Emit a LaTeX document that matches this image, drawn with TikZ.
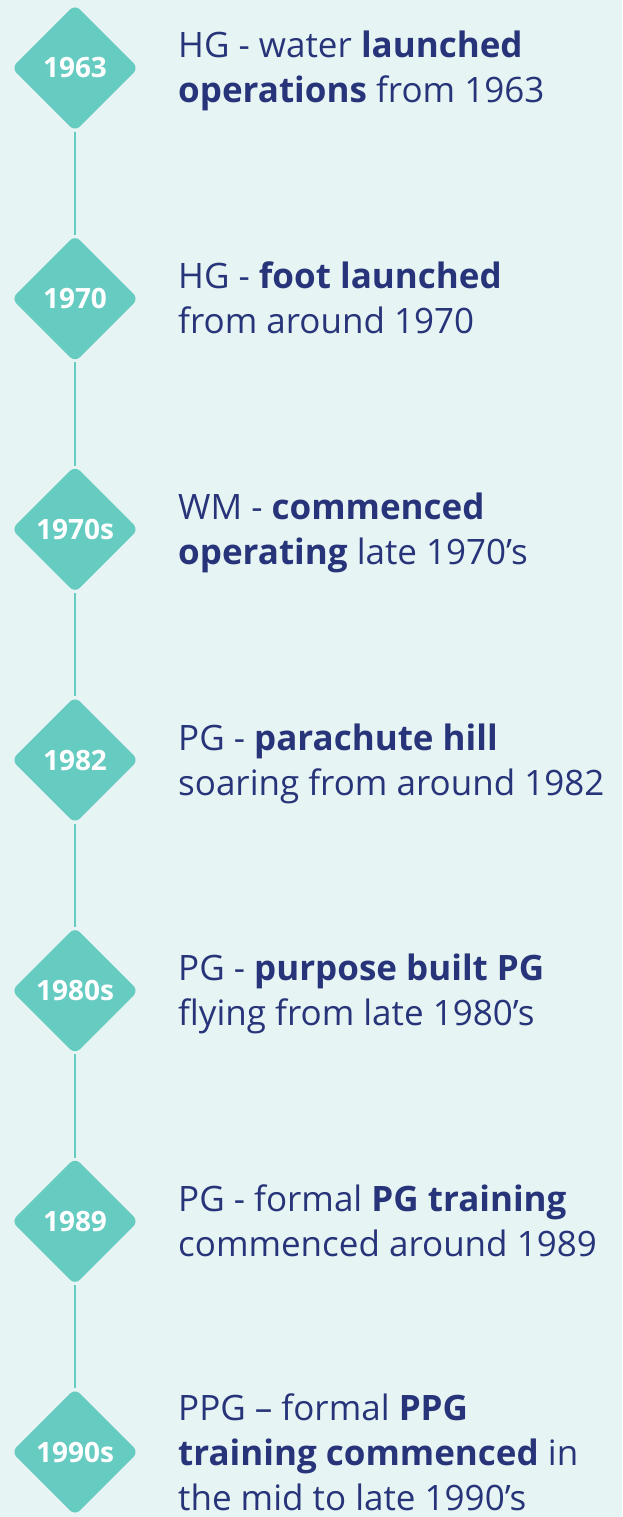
\documentclass[tikz,border=0pt]{standalone}
\usepackage{fontspec}
\setmainfont{Open Sans}
\usetikzlibrary{shapes.geometric}
\definecolor{tlbg}{HTML}{E6F4F3}
\definecolor{tlteal}{HTML}{66CBC1}
\definecolor{tlnavy}{HTML}{283479}

\begin{document}
\begin{tikzpicture}[x=1pt,y=-1pt,
    yearbox/.style={diamond, aspect=1, fill=tlteal, rounded corners=7pt,
      minimum size=127pt, inner sep=0pt, text=white,
      font=\fontsize{28}{30}\selectfont\bfseries},
    entry/.style={anchor=base west, align=left, inner sep=0pt, text=tlnavy,
      font=\fontsize{35}{45}\selectfont},
    stem/.style={draw=tlteal, line width=2pt}]
  \fill[tlbg] (0,0) rectangle (622,1517);
  \useasboundingbox (0,0) rectangle (622,1517);

  % year diamonds
  \foreach \yr/\nm/\yy in {1963/d1/68, 1970/d2/298.7, 1970s/d3/529.3,
      1982/d4/760, 1980s/d5/990.7, 1989/d6/1221.3, 1990s/d7/1452}
    \node[yearbox] (\nm) at (75,\yy) {\yr};

  % stems between them
  \foreach \a/\b in {d1/d2, d2/d3, d3/d4, d4/d5, d5/d6, d6/d7}
    \draw[stem] (\a.south) -- (\b.north);

  % entries, placed on the baseline of the last line
  \node[entry] (t1) at (178,103) {HG - water \textbf{launched}\\\textbf{operations} from 1963};
  \node[entry] (t2) at (178,333.7) {HG - \textbf{foot launched}\\from around 1970};
  \node[entry] (t3) at (178,564.3) {WM - \textbf{commenced}\\\textbf{operating} late 1970’s};
  \node[entry] (t4) at (178,795) {PG - \textbf{parachute hill}\\soaring from around 1982};
  \node[entry] (t5) at (178,1025.7) {PG - \textbf{purpose built PG}\\flying from late 1980’s};
  \node[entry] (t6) at (178,1256.3) {PG - formal \textbf{PG training}\\commenced around 1989};
  \node[entry] (t7) at (178,1510) {PPG – formal \textbf{PPG}\\\textbf{training commenced} in\\the mid to late 1990’s};
\end{tikzpicture}
\end{document}
